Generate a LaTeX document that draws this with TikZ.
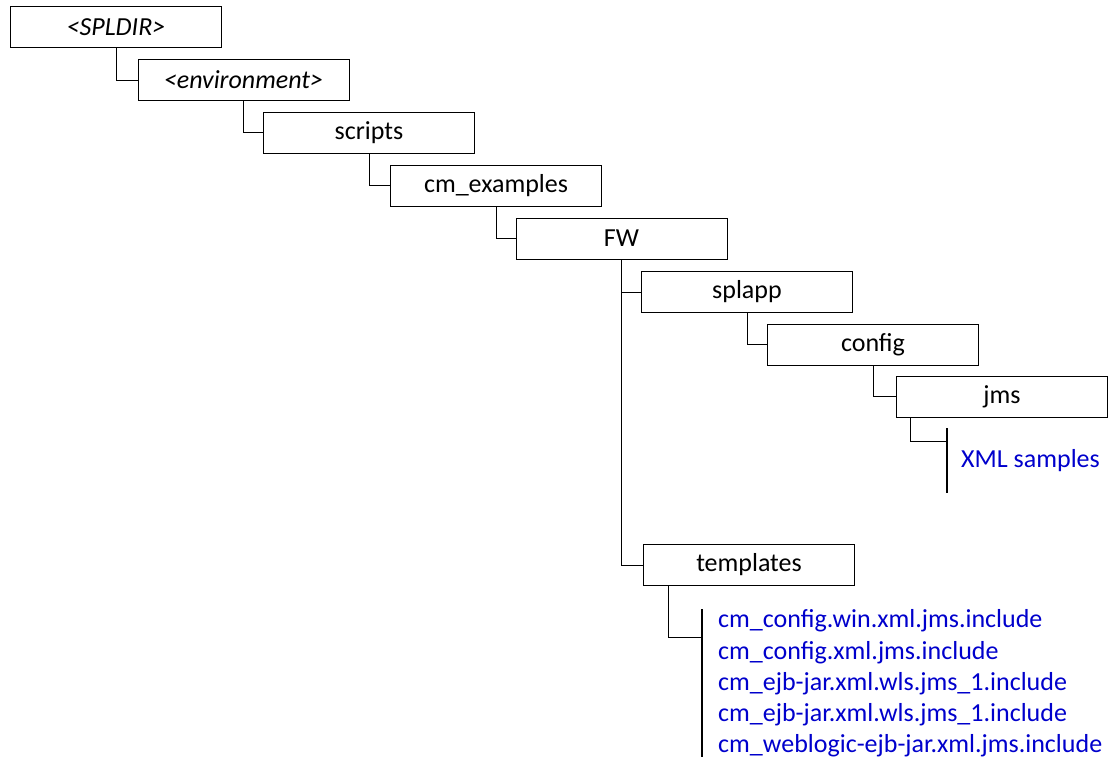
\documentclass[tikz,border=0pt]{standalone}
\usepackage{fontspec}
\setmainfont{Carlito}
\definecolor{fileblue}{RGB}{0,0,204}
\tikzset{
  dirbox/.style={draw=black, line width=1pt, minimum width=211pt, minimum height=41pt, inner sep=0pt, font=\fontsize{26}{30}\selectfont, fill=white},
  conn/.style={draw=black, line width=1pt},
  bar/.style={draw=black, line width=1.8pt},
  filetext/.style={anchor=west, inner sep=0pt, text=fileblue, font=\fontsize{26}{30}\selectfont}
}
\begin{document}
\begin{tikzpicture}[x=1pt,y=-1pt]
\useasboundingbox (0,0) rectangle (1112,758);
\node[dirbox] (spl) at (116,27) {\itshape <SPLDIR>};
\node[dirbox] (env) at (243.5,80) {\itshape <environment>};
\node[dirbox] (scr) at (369,132.5) {scripts};
\node[dirbox] (cmx) at (496,185.5) {cm\_examples};
\node[dirbox] (fw) at (621.5,238.5) {FW};
\node[dirbox] (spa) at (747,292) {splapp};
\node[dirbox] (cfg) at (873,344.5) {config};
\node[dirbox] (jms) at (1002,396.5) {jms};
\node[dirbox] (tpl) at (749,565) {templates};

\draw[conn] (spl.south) |- (env.west);
\draw[conn] (env.south) |- (scr.west);
\draw[conn] (scr.south) |- (cmx.west);
\draw[conn] (cmx.south) |- (fw.west);
\draw[conn] (fw.south) |- (spa.west);
\draw[conn] (fw.south) |- (tpl.west);
\draw[conn] (spa.south) |- (cfg.west);
\draw[conn] (cfg.south) |- (jms.west);

\coordinate (jmsfoot) at (910,417);
\coordinate (xbtop) at (947,428);
\coordinate (xbbot) at (947,493);
\coordinate (xbmid) at (947,441);
\draw[conn] (jmsfoot) |- (xbmid);
\draw[bar] (xbtop) -- (xbbot);
\node[filetext] (xml) at (961,461) {XML samples};

\coordinate (tplfoot) at (668,586);
\coordinate (tbtop) at (702,609);
\coordinate (tbbot) at (702,757);
\coordinate (tbmid) at (702,637);
\draw[conn] (tplfoot) |- (tbmid);
\draw[bar] (tbtop) -- (tbbot);
\node[filetext] (f1) at (718,621) {cm\_config.win.xml.jms.include};
\node[filetext] (f2) at (718,653) {cm\_config.xml.jms.include};
\node[filetext] (f3) at (718,684) {cm\_ejb-jar.xml.wls.jms\_1.include};
\node[filetext] (f4) at (718,715) {cm\_ejb-jar.xml.wls.jms\_1.include};
\node[filetext] (f5) at (718,746) {cm\_weblogic-ejb-jar.xml.jms.include};
\end{tikzpicture}
\end{document}
